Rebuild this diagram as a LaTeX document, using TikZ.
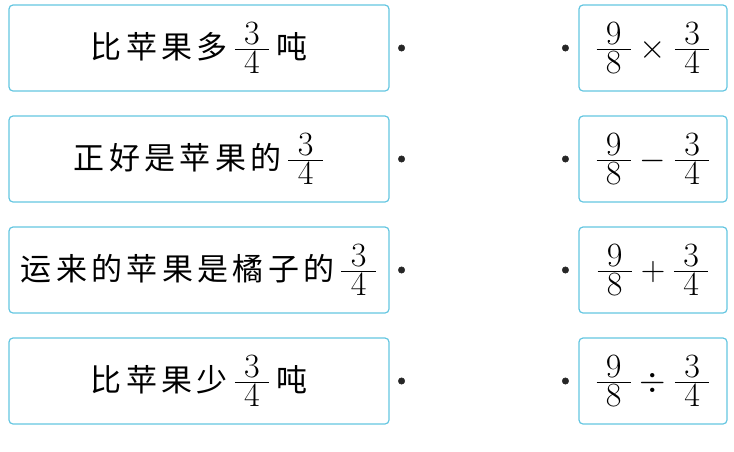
\RequirePackage{fix-cm}
\documentclass[tikz,border=0pt]{standalone}
\usepackage{amsmath}
\usepackage{fontspec}
\newfontfamily\cjk[LetterSpace=14]{Noto Sans CJK SC}
\usetikzlibrary{positioning}
\definecolor{boxline}{RGB}{100,198,225}
\newcommand{\zh}[1]{{\fontsize{31}{36}\selectfont\cjk #1}}
\newcommand{\fr}[2]{\ensuremath{\frac{\textstyle\mkern5mu#1\mkern5mu}{\textstyle\mkern5mu#2\mkern5mu}}}
\newcommand{\pair}[4] {
    \node[leftbox] (l#1) at (199,#2) {#3};
    \node[dotmark, right=8.5pt of l#1] (p#1) {};
    \node[rightbox] (r#1) at (653,#2) {$\fr{9}{8}#4\fr{3}{4}$};
    \node[dotmark, left=9.5pt of r#1] (q#1) {};
}

\begin{document}
\begin{tikzpicture}[x=1pt,y=-1pt,
    pairbox/.style={draw=boxline,line width=1.2pt,rounded corners=4pt,
        minimum height=86pt,inner sep=0pt,font=\fontsize{34}{40}\selectfont},
    leftbox/.style={pairbox,minimum width=380pt},
    rightbox/.style={pairbox,minimum width=148pt},
    dotmark/.style={circle,fill=black!85,draw=black!85,inner sep=0pt,minimum size=6.5pt}]
    \useasboundingbox (0,0) rectangle (734,451);
    \pair{1}{48}{\zh{比苹果多}\,\fr{3}{4}\,\zh{吨}}{\times}
    \pair{2}{159}{\zh{正好是苹果的}\,\fr{3}{4}}{-}
    \pair{3}{270}{\zh{运来的苹果是橘子的}\,\fr{3}{4}}{+}
    \pair{4}{381}{\zh{比苹果少}\,\fr{3}{4}\,\zh{吨}}{\div}
\end{tikzpicture}
\end{document}
